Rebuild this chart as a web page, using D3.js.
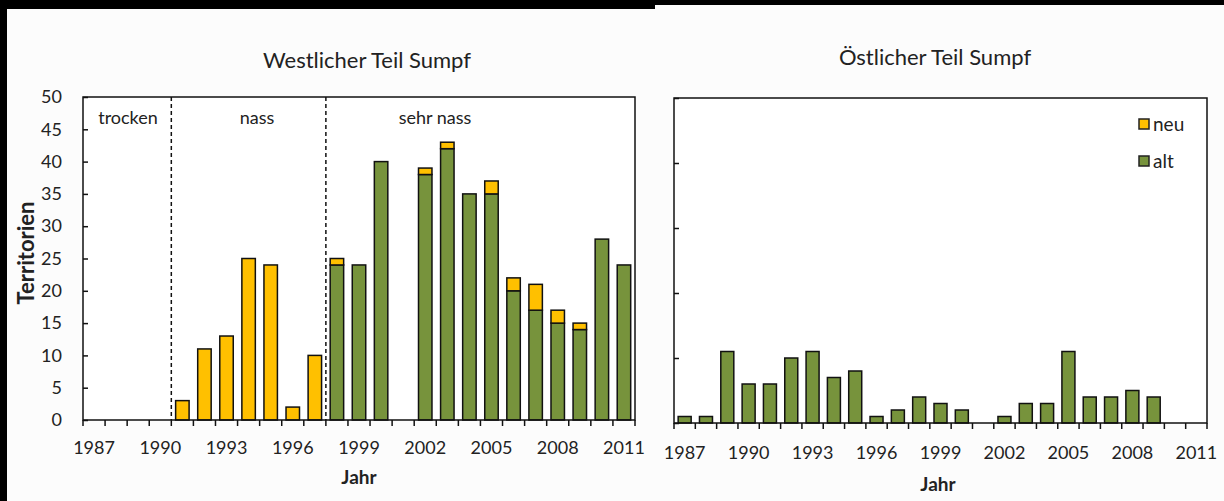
<!DOCTYPE html>
<html>
<head>
<meta charset="utf-8">
<script src="https://cdn.jsdelivr.net/npm/d3@7"></script>
<style>
  body { margin: 0; background: #000; }
  svg { display: block; }
  text { font-family: Lato, "Open Sans", sans-serif; fill: #222; }
  .tick text { font-size: 18px; fill: #222; }
  .title { font-size: 22px; }
  .axlabel { font-size: 19px; font-weight: bold; }
  .period { font-size: 18px; }
  .legend { font-size: 19px; }
</style>
</head>
<body>
<svg id="chart"></svg>
<script>
// years on the x axis
var years = d3.range(1987, 2012);

// western part of the marsh: old (alt) and new (neu) territories
var westAlt = [0, 0, 0, 0, 0, 0, 0, 0, 0, 0, 0, 24, 24, 40, 0, 38, 42, 35, 35, 20, 17, 15, 14, 28, 24];
var westNeu = [0, 0, 0, 0, 3, 11, 13, 25, 24, 2, 10, 1, 0, 0, 0, 1, 1, 0, 2, 2, 4, 2, 1, 0, 0];

// eastern part of the marsh
var eastAlt = [1, 1, 11, 6, 6, 10, 11, 7, 8, 1, 2, 4, 3, 2, 0, 1, 3, 3, 11, 4, 4, 5, 4, 0, 0];
var eastNeu = [0, 0, 0, 0, 0, 0, 0, 0, 0, 0, 0, 0, 0, 0, 0, 0, 0, 0, 0, 0, 0, 0, 0, 0, 0];

// wetness periods in the west chart (start year, label)
var periods = ["trocken", "nass", "sehr nass"];
var periodStart = [1987, 1991, 1998];
var periodLabelX = [128, 257, 435];

var yTicks = [0, 5, 10, 15, 20, 25, 30, 35, 40, 45, 50];
var xTickYears = [1987, 1990, 1993, 1996, 1999, 2002, 2005, 2008, 2011];

var w = 1224;
var h = 501;

var svg = d3.select("#chart")
  .attr("width", w)
  .attr("height", h);

// light background, black band on top and left
svg.append("rect")
  .attr("x", 7).attr("y", 9)
  .attr("width", w - 7).attr("height", h - 9)
  .attr("fill", "#fcfcfc");
svg.append("rect")
  .attr("x", 655).attr("y", 5)
  .attr("width", w - 655).attr("height", 4)
  .attr("fill", "#fcfcfc");

var yellow = "#FFC000";
var green = "#77933C";

function drawPanel(opt) {
  var g = svg.append("g");

  var x = d3.scaleBand()
    .domain(years)
    .range([opt.left, opt.right])
    .paddingInner(0.39)
    .paddingOuter(0.195);

  var y = d3.scaleLinear()
    .domain([0, 50])
    .range([opt.bottom, opt.top]);

  // plot area
  g.append("rect")
    .attr("x", opt.left)
    .attr("y", opt.top)
    .attr("width", opt.right - opt.left)
    .attr("height", opt.bottom - opt.top)
    .attr("fill", "#fff");

  var stack = years.map(function(yr, i) {
    return { year: yr, alt: opt.alt[i], neu: opt.neu[i] };
  });

  // alt bars (bottom)
  g.selectAll(".alt")
    .data(stack.filter(function(d) { return d.alt > 0; }))
    .enter()
    .append("rect")
    .attr("class", "alt")
    .attr("x", function(d) { return x(d.year); })
    .attr("y", function(d) { return y(d.alt); })
    .attr("width", x.bandwidth())
    .attr("height", function(d) { return y(0) - y(d.alt); })
    .attr("fill", green)
    .attr("stroke", "#111")
    .attr("stroke-width", 1.5);

  // neu bars (on top)
  g.selectAll(".neu")
    .data(stack.filter(function(d) { return d.neu > 0; }))
    .enter()
    .append("rect")
    .attr("class", "neu")
    .attr("x", function(d) { return x(d.year); })
    .attr("y", function(d) { return y(d.alt + d.neu); })
    .attr("width", x.bandwidth())
    .attr("height", function(d) { return y(d.alt) - y(d.alt + d.neu); })
    .attr("fill", yellow)
    .attr("stroke", "#111")
    .attr("stroke-width", 1.5);

  // frame
  g.append("rect")
    .attr("x", opt.left)
    .attr("y", opt.top)
    .attr("width", opt.right - opt.left)
    .attr("height", opt.bottom - opt.top)
    .attr("fill", "none")
    .attr("stroke", "#111")
    .attr("stroke-width", 1.5);

  // y axis, ticks pointing inwards
  var yAxis = d3.axisLeft(y)
    .tickValues(yTicks.filter(function(v) { return opt.yLabels || v % 10 == 0; }))
    .tickSize(-5)
    .tickPadding(21)
    .tickFormat(opt.yLabels ? d3.format("d") : "");
  g.append("g")
    .attr("transform", "translate(" + opt.left + ",0)")
    .call(yAxis)
    .call(function(a) { a.select(".domain").remove(); })
    .selectAll("line").attr("stroke", "#111").attr("stroke-width", 1.5);

  // x axis labels
  var xAxis = d3.axisBottom(x)
    .tickValues(xTickYears)
    .tickSize(0)
    .tickPadding(opt.xPad);
  g.append("g")
    .attr("transform", "translate(0," + opt.bottom + ")")
    .call(xAxis)
    .call(function(a) { a.select(".domain").remove(); });

  // x ticks between the categories
  var edges = d3.range(years.length + 1).map(function(i) {
    return opt.left + i * x.step();
  });
  g.selectAll(".xt")
    .data(edges)
    .enter()
    .append("line")
    .attr("x1", function(d) { return d; })
    .attr("x2", function(d) { return d; })
    .attr("y1", opt.bottom)
    .attr("y2", opt.bottom + 6)
    .attr("stroke", "#111")
    .attr("stroke-width", 1.5);

  g.append("text")
    .attr("class", "title")
    .attr("x", opt.titleX)
    .attr("y", opt.titleY)
    .attr("text-anchor", "middle")
    .text(opt.title);

  g.append("text")
    .attr("class", "axlabel")
    .attr("x", opt.jahrX)
    .attr("y", opt.jahrY)
    .attr("text-anchor", "middle")
    .text("Jahr");

  return { g: g, x: x, y: y };
}

var west = drawPanel({
  left: 83, right: 635, top: 97, bottom: 420,
  alt: westAlt, neu: westNeu,
  title: "Westlicher Teil Sumpf", titleX: 367, titleY: 68,
  jahrX: 359, jahrY: 484, xPad: 21,
  yLabels: true
});

var east = drawPanel({
  left: 674, right: 1207, top: 98, bottom: 423,
  alt: eastAlt, neu: eastNeu,
  title: "Östlicher Teil Sumpf", titleX: 935, titleY: 65,
  jahrX: 938, jahrY: 491, xPad: 23,
  yLabels: false
});

// y axis title of the west chart
svg.append("text")
  .attr("class", "axlabel")
  .attr("transform", "translate(34,253) rotate(-90)")
  .attr("text-anchor", "middle")
  .style("font-size", "22px")
  .text("Territorien");

// wetness periods: dashed separators and labels
var step = west.x.step();
var x0 = 83;
periodStart.forEach(function(yr, i) {
  var start = x0 + (yr - years[0]) * step;
  if (i > 0) {
    svg.append("line")
      .attr("x1", start).attr("x2", start)
      .attr("y1", 97).attr("y2", 420)
      .attr("stroke", "#111")
      .attr("stroke-width", 1.5)
      .attr("stroke-dasharray", "4,3");
  }
  svg.append("text")
    .attr("class", "period")
    .attr("x", periodLabelX[i])
    .attr("y", 124)
    .attr("text-anchor", "middle")
    .text(periods[i]);
});

// legend in the east chart
var legend = [["neu", yellow], ["alt", green]];
legend.forEach(function(item, i) {
  svg.append("rect")
    .attr("x", 1139)
    .attr("y", 119 + i * 37)
    .attr("width", 10)
    .attr("height", 10)
    .attr("fill", item[1])
    .attr("stroke", "#222")
    .attr("stroke-width", 1.5);
  svg.append("text")
    .attr("class", "legend")
    .attr("x", 1153)
    .attr("y", 131 + i * 37)
    .text(item[0]);
});
</script>
</body>
</html>
